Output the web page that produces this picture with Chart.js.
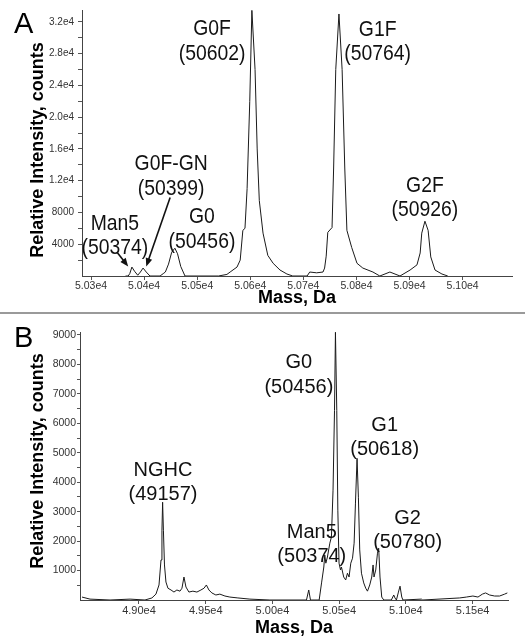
<!DOCTYPE html>
<html>
<head>
<meta charset="utf-8">
<script src="https://cdn.jsdelivr.net/npm/chart.js@4.4.1/dist/chart.umd.min.js"></script>
<style>
  body { margin: 0; background: #fff; }
  #wrap { position: relative; width: 525px; height: 643px; overflow: hidden; }
  #chartA { position: absolute; left: 0; top: 0; }
  #chartB { position: absolute; left: 0; top: 314px; }
  .rule { position: absolute; left: 0; top: 312px; width: 525px; height: 2px; background: #9a9a9a; }
</style>
</head>
<body>
<div id="wrap">
  <canvas id="chartA" width="525" height="312"></canvas>
  <div class="rule"></div>
  <canvas id="chartB" width="525" height="329"></canvas>
</div>
<script>
const FONT = "'Liberation Sans', Arial, Helvetica, sans-serif";

// ---- panel A: deconvoluted spectrum, fucosylated glycoforms ----
const massA = [
  50365, 50370, 50373, 50377, 50382, 50388, 50393, 50398, 50404, 50411,
  50430, 50436, 50440, 50446, 50452, 50458, 50463, 50469, 50477,
  50540, 50556, 50562, 50575, 50581, 50586, 50590, 50594, 50599, 50603,
  50609, 50613, 50617, 50624, 50633, 50643, 50656, 50669, 50680,
  50707, 50712, 50725, 50737, 50740, 50743, 50746, 50754, 50757, 50761,
  50767, 50773, 50778, 50782, 50791, 50801, 50812, 50831, 50844, 50863,
  50882, 50901, 50914, 50920, 50923, 50929, 50935, 50940, 50948, 50961, 50972
];
const countsA = [
  0, 0, 300, 1125, 600, 100, 500, 1000, 500, 0,
  0, 300, 500, 1500, 3000, 3500, 2800, 1200, 0,
  0, 200, 500, 1125, 2000, 5750, 6000, 11000, 22000, 33450,
  26000, 16000, 9500, 5400, 2600, 1600, 750, 250, 0,
  0, 500, 400, 500, 1000, 2500, 5500, 6100, 13600, 26000,
  33000, 26000, 13600, 5750, 3600, 1600, 1000, 500, 0, 500,
  0, 750, 1400, 2900, 5400, 6900, 5750, 2400, 750, 250, 0
];
const xTicksA = [50300, 50400, 50500, 50600, 50700, 50800, 50900, 51000];
const xLabelsA = ['5.03e4', '5.04e4', '5.05e4', '5.06e4', '5.07e4', '5.08e4', '5.09e4', '5.10e4'];
const yTicksA = [4000, 8000, 12000, 16000, 20000, 24000, 28000, 32000];
const yLabelsA = ['4000', '8000', '1.2e4', '1.6e4', '2.0e4', '2.4e4', '2.8e4', '3.2e4'];
const yMinorA = [2000, 6000, 10000, 14000, 18000, 22000, 26000, 30000];

// peak names, label anchor (mass, counts)
const peakNamesA = ['G0F', 'G1F', 'G2F', 'G0F-GN', 'G0', 'Man5'];
const peakMassA = ['(50602)', '(50764)', '(50926)', '(50399)', '(50456)', '(50374)'];
const labelAtA = [[50528, 31100], [50840, 31000], [50929, 11400], [50451, 14100], [50509, 7400], [50345, 6600]];
// arrows: [fromMass, fromCounts, toMass, toCounts]
const arrowsA = [[50349, 3000, 50370, 1200], [50449, 9900, 50404, 1200]];

// ---- panel B: non-fucosylated glycoforms ----
const massB = [
  48573, 48633, 48783, 48933, 49045, 49097, 49127, 49150, 49165, 49172,
  49177, 49183, 49191, 49202, 49217, 49240, 49262, 49284, 49307, 49322,
  49337, 49352, 49374, 49404, 49434, 49464, 49487, 49505, 49524, 49546,
  49576, 49606, 49644, 49681, 49741, 49831, 49981, 50255, 50272, 50285,
  50350, 50368, 50385, 50392, 50400, 50412, 50430, 50442, 50454, 50465,
  50472, 50482, 50490, 50499, 50510, 50517, 50534, 50549, 50562, 50574,
  50587, 50600, 50612, 50622, 50634, 50644, 50654, 50667, 50684, 50699,
  50712, 50729, 50744, 50754, 50761, 50774, 50787, 50796, 50806, 50819,
  50834, 50891, 50909, 50918, 50929, 50944, 50956, 50969, 50978, 51116,
  51126, 51403, 51453, 51502, 51540, 51573, 51597, 51627, 51665, 51702,
  51740, 51760
];
const countsB = [
  100, 30, 0, 30, 0, 70, 200, 510, 1360, 2370,
  3320, 2370, 1190, 610, 400, 340, 270, 340, 300, 400,
  780, 440, 270, 300, 270, 340, 400, 510, 340, 240,
  170, 200, 135, 100, 70, 30, 0, 0, 340, 0,
  0, 580, 1120, 1530, 1250, 1460, 1930, 2140, 3730, 6440,
  9090, 6440, 3050, 1250, 1020, 1120, 780, 680, 910, 780,
  1250, 1420, 1930, 3290, 4810, 3490, 1700, 910, 580, 400,
  300, 510, 780, 1190, 780, 1020, 1590, 1760, 780, 100,
  0, 0, 170, 70, 0, 270, 470, 100, 0, 30,
  0, 70, 100, 135, 100, 200, 240, 170, 135, 135,
  200, 240
];
const xTicksB = [49000, 49500, 50000, 50500, 51000, 51500];
const xLabelsB = ['4.90e4', '4.95e4', '5.00e4', '5.05e4', '5.10e4', '5.15e4'];
const yTicksB = [1000, 2000, 3000, 4000, 5000, 6000, 7000, 8000, 9000];
const yLabelsB = ['1000', '2000', '3000', '4000', '5000', '6000', '7000', '8000', '9000'];
const yMinorB = [500, 1500, 2500, 3500, 4500, 5500, 6500, 7500, 8500];

const peakNamesB = ['NGHC', 'G0', 'G1', 'G2', 'Man5'];
const peakMassB = ['(49157)', '(50456)', '(50618)', '(50780)', '(50374)'];
const labelAtB = [[49180, 4400], [50198, 8060], [50841, 5930], [51013, 2780], [50295, 2300]];

const annotate = {
  id: 'annotate',
  afterDatasetsDraw(chart, args, opts) {
    const { ctx } = chart;
    const x = chart.scales.x, y = chart.scales.y;
    ctx.save();
    ctx.fillStyle = '#111';
    ctx.strokeStyle = '#111';
    ctx.textAlign = 'center';
    ctx.textBaseline = 'middle';
    ctx.font = opts.font;
    opts.names.forEach((name, i) => {
      const px = x.getPixelForValue(opts.at[i][0]);
      const py = y.getPixelForValue(opts.at[i][1]);
      [name, opts.masses[i]].forEach((t, j) => {
        ctx.save();
        ctx.translate(px, py + j * opts.lineGap);
        ctx.scale(opts.squeeze, 1);
        ctx.fillText(t, 0, 0);
        ctx.restore();
      });
    });

    (opts.arrows || []).forEach(a => {
      const x0 = x.getPixelForValue(a[0]), y0 = y.getPixelForValue(a[1]);
      const x1 = x.getPixelForValue(a[2]), y1 = y.getPixelForValue(a[3]);
      const ang = Math.atan2(y1 - y0, x1 - x0);
      ctx.lineWidth = 1.6;
      ctx.beginPath();
      ctx.moveTo(x0, y0);
      ctx.lineTo(x1 - 6 * Math.cos(ang), y1 - 6 * Math.sin(ang));
      ctx.stroke();
      ctx.beginPath();
      ctx.moveTo(x1, y1);
      ctx.lineTo(x1 - 9 * Math.cos(ang - 0.38), y1 - 9 * Math.sin(ang - 0.38));
      ctx.lineTo(x1 - 9 * Math.cos(ang + 0.38), y1 - 9 * Math.sin(ang + 0.38));
      ctx.closePath();
      ctx.fill();
    });

    // panel letter
    ctx.textAlign = 'left';
    ctx.textBaseline = 'alphabetic';
    ctx.font = '29px ' + FONT;
    ctx.fillStyle = '#000';
    ctx.fillText(opts.letter, 14, 33);

    // y axis title
    ctx.save();
    ctx.translate(opts.yTitleX, opts.yTitleY);
    ctx.rotate(-Math.PI / 2);
    ctx.textAlign = 'center';
    ctx.textBaseline = 'middle';
    ctx.font = 'bold 18px ' + FONT;
    ctx.fillText('Relative Intensity, counts', 0, 0);
    ctx.restore();
    ctx.restore();
  }
};

function makePanel(canvasId, cfg) {
  const points = cfg.mass.map((m, i) => ({ x: m, y: cfg.counts[i] }));
  const label = (vals, labels) => v => {
    const k = vals.indexOf(v);
    return k < 0 ? '' : labels[k];
  };
  return new Chart(document.getElementById(canvasId), {
    type: 'line',
    data: {
      datasets: [{
        data: points,
        borderColor: '#1a1a1a',
        borderWidth: 1,
        pointRadius: 0,
        tension: 0,
        fill: false
      }]
    },
    plugins: [annotate],
    options: {
      responsive: false,
      devicePixelRatio: 1,
      animation: false,
      layout: { padding: cfg.padding },
      scales: {
        x: {
          type: 'linear',
          min: cfg.xMin,
          max: cfg.xMax,
          afterBuildTicks: s => { s.ticks = cfg.xTicks.map(v => ({ value: v })); },
          afterFit: s => { s.height = cfg.xAxisH; },
          ticks: {
            autoSkip: false,
            maxRotation: 0,
            padding: cfg.xTickPad,
            color: '#333',
            font: { family: FONT, size: cfg.xTickSize },
            callback: label(cfg.xTicks, cfg.xLabels)
          },
          grid: { drawOnChartArea: false, drawTicks: true, tickLength: 4, color: '#555' },
          border: { color: '#444' },
          title: {
            display: true,
            text: 'Mass, Da',
            color: '#000',
            font: { family: FONT, size: 18, weight: 'bold' },
            padding: { top: 0, bottom: cfg.xTitlePad }
          }
        },
        y: {
          type: 'linear',
          min: 0,
          max: cfg.yMax,
          afterBuildTicks: s => {
            s.ticks = cfg.yTicks.concat(cfg.yMinor).sort((a, b) => a - b).map(v => ({ value: v }));
          },
          afterFit: s => { s.width = cfg.yAxisW; },
          ticks: {
            autoSkip: false,
            padding: cfg.yTickPad,
            color: '#333',
            font: { family: FONT, size: cfg.yTickSize },
            callback: label(cfg.yTicks, cfg.yLabels)
          },
          grid: { drawOnChartArea: false, drawTicks: true, tickLength: cfg.yTickLen, color: '#555' },
          border: { color: '#444' }
        }
      },
      plugins: {
        legend: { display: false },
        tooltip: { enabled: false },
        annotate: cfg.notes
      }
    }
  });
}

makePanel('chartA', {
  mass: massA, counts: countsA,
  xMin: 50283, xMax: 51093, yMax: 33500,
  xTicks: xTicksA, xLabels: xLabelsA,
  yTicks: yTicksA, yLabels: yLabelsA, yMinor: yMinorA,
  padding: { top: 8, right: 13, bottom: 0, left: 0 },
  xAxisH: 36, yAxisW: 82, xTickSize: 10.5, yTickSize: 10, xTickPad: 0, yTickPad: 4, yTickLen: 4, xTitlePad: 3,
  notes: {
    names: peakNamesA, masses: peakMassA, at: labelAtA, arrows: arrowsA,
    font: '22px ' + FONT, lineGap: 24.5, squeeze: 0.88,
    letter: 'A', yTitleX: 38, yTitleY: 150
  }
});

makePanel('chartB', {
  mass: massB, counts: countsB,
  xMin: 48558, xMax: 51765, yMax: 9100,
  xTicks: xTicksB, xLabels: xLabelsB,
  yTicks: yTicksB, yLabels: yLabelsB, yMinor: yMinorB,
  padding: { top: 18, right: 17, bottom: 0, left: 0 },
  xAxisH: 43, yAxisW: 80, xTickSize: 11, yTickSize: 10.5, xTickPad: 0, yTickPad: 1, yTickLen: 3, xTitlePad: 4,
  notes: {
    names: peakNamesB, masses: peakMassB, at: labelAtB,
    font: '20px ' + FONT, lineGap: 24.5, squeeze: 1,
    letter: 'B', yTitleX: 38, yTitleY: 147
  }
});
</script>
</body>
</html>
